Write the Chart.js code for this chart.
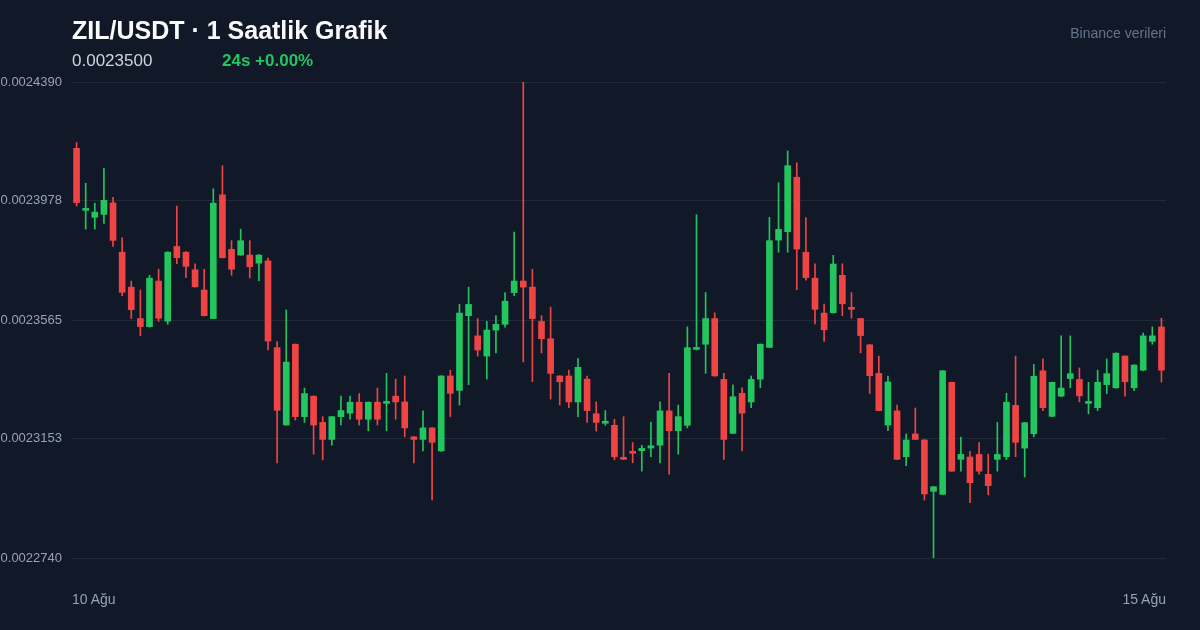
<!DOCTYPE html>
<html>
<head>
<meta charset="utf-8">
<script src="https://cdn.jsdelivr.net/npm/chart.js@4.4.1/dist/chart.umd.min.js"></script>
<style>
  html, body { margin:0; padding:0; background:#111827; width:1200px; height:630px; overflow:hidden; font-family:"Liberation Sans", Arial, sans-serif; }
  #wrap { position:relative; width:1200px; height:630px; }
  canvas { position:absolute; left:0; top:0; }
  .t { position:absolute; white-space:nowrap; }
  #title { left:72px; top:18px; font-size:25px; line-height:25px; font-weight:bold; color:#f8fafc; }
  #price { left:72px; top:52px; font-size:17px; line-height:17px; color:#cbd5e1; }
  #chg { left:222px; top:52px; font-size:17px; line-height:17px; font-weight:bold; color:#22c55e; }
  #src { right:34px; top:26px; font-size:14px; line-height:14px; color:#64748b; }
  #xl { left:72px; top:592px; font-size:14px; line-height:14px; color:#94a3b8; }
  #xr { right:34px; top:592px; font-size:14px; line-height:14px; color:#94a3b8; }
</style>
</head>
<body>
<div id="wrap">
  <canvas id="c" width="1200" height="630"></canvas>
  <div class="t" id="title">ZIL/USDT · 1 Saatlik Grafik</div>
  <div class="t" id="price">0.0023500</div>
  <div class="t" id="chg">24s +0.00%</div>
  <div class="t" id="src">Binance verileri</div>
  <div class="t" id="xl">10 Ağu</div>
  <div class="t" id="xr">15 Ağu</div>
</div>
<script>
const dayNames = ['10 Ağu','11 Ağu','12 Ağu','13 Ağu','14 Ağu'];
const yTicks = [0.0022740, 0.0023153, 0.0023565, 0.0023978, 0.0024390];

const opens = [
0.0024160,0.0023945,0.0023921,0.0023931,0.0023971,0.0023800,0.0023679,0.0023570,0.0023542,0.0023700,
0.0023561,0.0023820,0.0023800,0.0023739,0.0023669,0.0023570,0.0023999,0.0023810,0.0023790,0.0023790,
0.0023762,0.0023770,0.0023469,0.0023201,0.0023481,0.0023230,0.0023301,0.0023210,0.0023151,0.0023230,
0.0023242,0.0023280,0.0023221,0.0023280,0.0023276,0.0023301,0.0023281,0.0023160,0.0023151,0.0023191,
0.0023111,0.0023371,0.0023321,0.0023580,0.0023510,0.0023440,0.0023530,0.0023550,0.0023660,0.0023700,
0.0023679,0.0023560,0.0023500,0.0023371,0.0023371,0.0023281,0.0023360,0.0023240,0.0023207,0.0023200,
0.0023089,0.0023110,0.0023112,0.0023121,0.0023131,0.0023250,0.0023181,0.0023200,0.0023463,0.0023481,
0.0023570,0.0023359,0.0023172,0.0023311,0.0023281,0.0023360,0.0023470,0.0023842,0.0023871,0.0024060,
0.0023800,0.0023710,0.0023589,0.0023590,0.0023720,0.0023609,0.0023570,0.0023479,0.0023380,0.0023201,
0.0023250,0.0023091,0.0023170,0.0023149,0.0022971,0.0022961,0.0023349,0.0023082,0.0023090,0.0023099,
0.0023030,0.0023082,0.0023091,0.0023269,0.0023121,0.0023171,0.0023389,0.0023231,0.0023301,0.0023362,
0.0023359,0.0023276,0.0023261,0.0023341,0.0023330,0.0023440,0.0023330,0.0023391,0.0023491,0.0023541
];
const highs = [
0.0024180,0.0024039,0.0023970,0.0024091,0.0023990,0.0023850,0.0023700,0.0023669,0.0023720,0.0023741,
0.0023802,0.0023960,0.0023802,0.0023760,0.0023741,0.0024020,0.0024100,0.0023840,0.0023880,0.0023840,
0.0023792,0.0023780,0.0023490,0.0023600,0.0023482,0.0023329,0.0023302,0.0023230,0.0023231,0.0023301,
0.0023301,0.0023310,0.0023281,0.0023329,0.0023380,0.0023360,0.0023371,0.0023161,0.0023250,0.0023192,
0.0023372,0.0023391,0.0023619,0.0023679,0.0023570,0.0023560,0.0023580,0.0023660,0.0023870,0.0024390,
0.0023741,0.0023580,0.0023610,0.0023372,0.0023391,0.0023431,0.0023371,0.0023281,0.0023251,0.0023221,
0.0023230,0.0023140,0.0023131,0.0023210,0.0023281,0.0023380,0.0023270,0.0023541,0.0023930,0.0023660,
0.0023590,0.0023380,0.0023340,0.0023330,0.0023371,0.0023482,0.0023921,0.0024041,0.0024151,0.0024110,
0.0023920,0.0023760,0.0023620,0.0023789,0.0023760,0.0023660,0.0023571,0.0023480,0.0023440,0.0023371,
0.0023270,0.0023170,0.0023260,0.0023151,0.0022988,0.0023390,0.0023350,0.0023159,0.0023110,0.0023140,
0.0023100,0.0023210,0.0023311,0.0023440,0.0023210,0.0023411,0.0023430,0.0023350,0.0023510,0.0023510,
0.0023399,0.0023349,0.0023391,0.0023430,0.0023451,0.0023441,0.0023410,0.0023520,0.0023541,0.0023571
];
const lows = [
0.0023960,0.0023880,0.0023880,0.0023900,0.0023820,0.0023649,0.0023570,0.0023511,0.0023540,0.0023560,
0.0023550,0.0023760,0.0023712,0.0023679,0.0023579,0.0023569,0.0023780,0.0023720,0.0023789,0.0023711,
0.0023701,0.0023461,0.0023070,0.0023200,0.0023218,0.0023210,0.0023100,0.0023080,0.0023131,0.0023201,
0.0023221,0.0023201,0.0023181,0.0023201,0.0023181,0.0023221,0.0023160,0.0023070,0.0023111,0.0022941,
0.0023110,0.0023230,0.0023270,0.0023341,0.0023440,0.0023360,0.0023451,0.0023540,0.0023649,0.0023420,
0.0023351,0.0023451,0.0023291,0.0023270,0.0023261,0.0023230,0.0023210,0.0023180,0.0023200,0.0023080,
0.0023081,0.0023070,0.0023041,0.0023091,0.0023070,0.0023031,0.0023100,0.0023191,0.0023461,0.0023380,
0.0023370,0.0023082,0.0023171,0.0023111,0.0023261,0.0023330,0.0023469,0.0023800,0.0023800,0.0023670,
0.0023703,0.0023551,0.0023491,0.0023589,0.0023580,0.0023571,0.0023451,0.0023310,0.0023250,0.0023181,
0.0023081,0.0023060,0.0023150,0.0022941,0.0022741,0.0022960,0.0023040,0.0023041,0.0022932,0.0023031,
0.0022959,0.0023041,0.0023081,0.0023091,0.0023021,0.0023160,0.0023251,0.0023230,0.0023299,0.0023330,
0.0023281,0.0023240,0.0023251,0.0023310,0.0023329,0.0023301,0.0023320,0.0023389,0.0023481,0.0023350
];
const closes = [
0.0023972,0.0023948,0.0023939,0.0023980,0.0023841,0.0023661,0.0023601,0.0023542,0.0023710,0.0023571,
0.0023800,0.0023781,0.0023751,0.0023680,0.0023580,0.0023970,0.0023781,0.0023741,0.0023840,0.0023750,
0.0023790,0.0023492,0.0023252,0.0023419,0.0023230,0.0023310,0.0023201,0.0023151,0.0023230,0.0023251,
0.0023280,0.0023221,0.0023280,0.0023221,0.0023280,0.0023281,0.0023191,0.0023151,0.0023191,0.0023141,
0.0023371,0.0023311,0.0023589,0.0023619,0.0023461,0.0023530,0.0023550,0.0023630,0.0023700,0.0023679,
0.0023570,0.0023500,0.0023380,0.0023351,0.0023281,0.0023401,0.0023251,0.0023210,0.0023209,0.0023091,
0.0023082,0.0023103,0.0023120,0.0023129,0.0023250,0.0023181,0.0023230,0.0023469,0.0023468,0.0023570,
0.0023371,0.0023151,0.0023299,0.0023242,0.0023359,0.0023481,0.0023840,0.0023879,0.0024100,0.0023811,
0.0023712,0.0023602,0.0023531,0.0023759,0.0023621,0.0023602,0.0023511,0.0023372,0.0023251,0.0023350,
0.0023082,0.0023149,0.0023151,0.0022962,0.0022987,0.0023389,0.0023041,0.0023099,0.0023001,0.0023041,
0.0022991,0.0023099,0.0023280,0.0023141,0.0023209,0.0023370,0.0023261,0.0023349,0.0023329,0.0023379,
0.0023302,0.0023280,0.0023349,0.0023379,0.0023450,0.0023351,0.0023409,0.0023510,0.0023510,0.0023391
];

const categories = [];
dayNames.forEach(d => { for (let h = 0; h < 24; h++) categories.push(d + ' ' + String(h).padStart(2,'0') + ':00'); });

const UP = '#22c55e', DOWN = '#ef4444';
const colors = opens.map((o, i) => closes[i] >= o ? UP : DOWN);
const bodies = opens.map((o, i) => [o, closes[i]]);
const wicks = lows.map((l, i) => [l, highs[i]]);

new Chart(document.getElementById('c'), {
  type: 'bar',
  data: {
    labels: categories,
    datasets: [
      { label: 'body', data: bodies, backgroundColor: colors, borderColor: colors, borderWidth: 0, barThickness: 6, minBarLength: 2, grouped: false, borderSkipped: false },
      { label: 'wick', data: wicks, backgroundColor: colors, borderWidth: 0, barThickness: 1, grouped: false, borderSkipped: false }
    ]
  },
  options: {
    responsive: false,
    animation: false,
    events: [],
    layout: { padding: { left: 0, right: 34, top: 82, bottom: 72 } },
    plugins: { legend: { display: false }, tooltip: { enabled: false }, title: { display: false } },
    scales: {
      x: { type: 'category', offset: true, display: false, grid: { display: false } },
      y: {
        min: 0.0022740, max: 0.0024390,
        afterBuildTicks: (s) => { s.ticks = yTicks.map(v => ({ value: v })); },
        afterFit: (s) => { s.width = 72; },
        border: { display: false },
        grid: { color: '#1f2937', lineWidth: 1, drawTicks: false },
        ticks: {
          padding: 10,
          color: '#94a3b8',
          font: { family: '"Liberation Sans", Arial, sans-serif', size: 13 },
          callback: (v) => Number(v).toFixed(7)
        }
      }
    }
  }
});
</script>
</body>
</html>
